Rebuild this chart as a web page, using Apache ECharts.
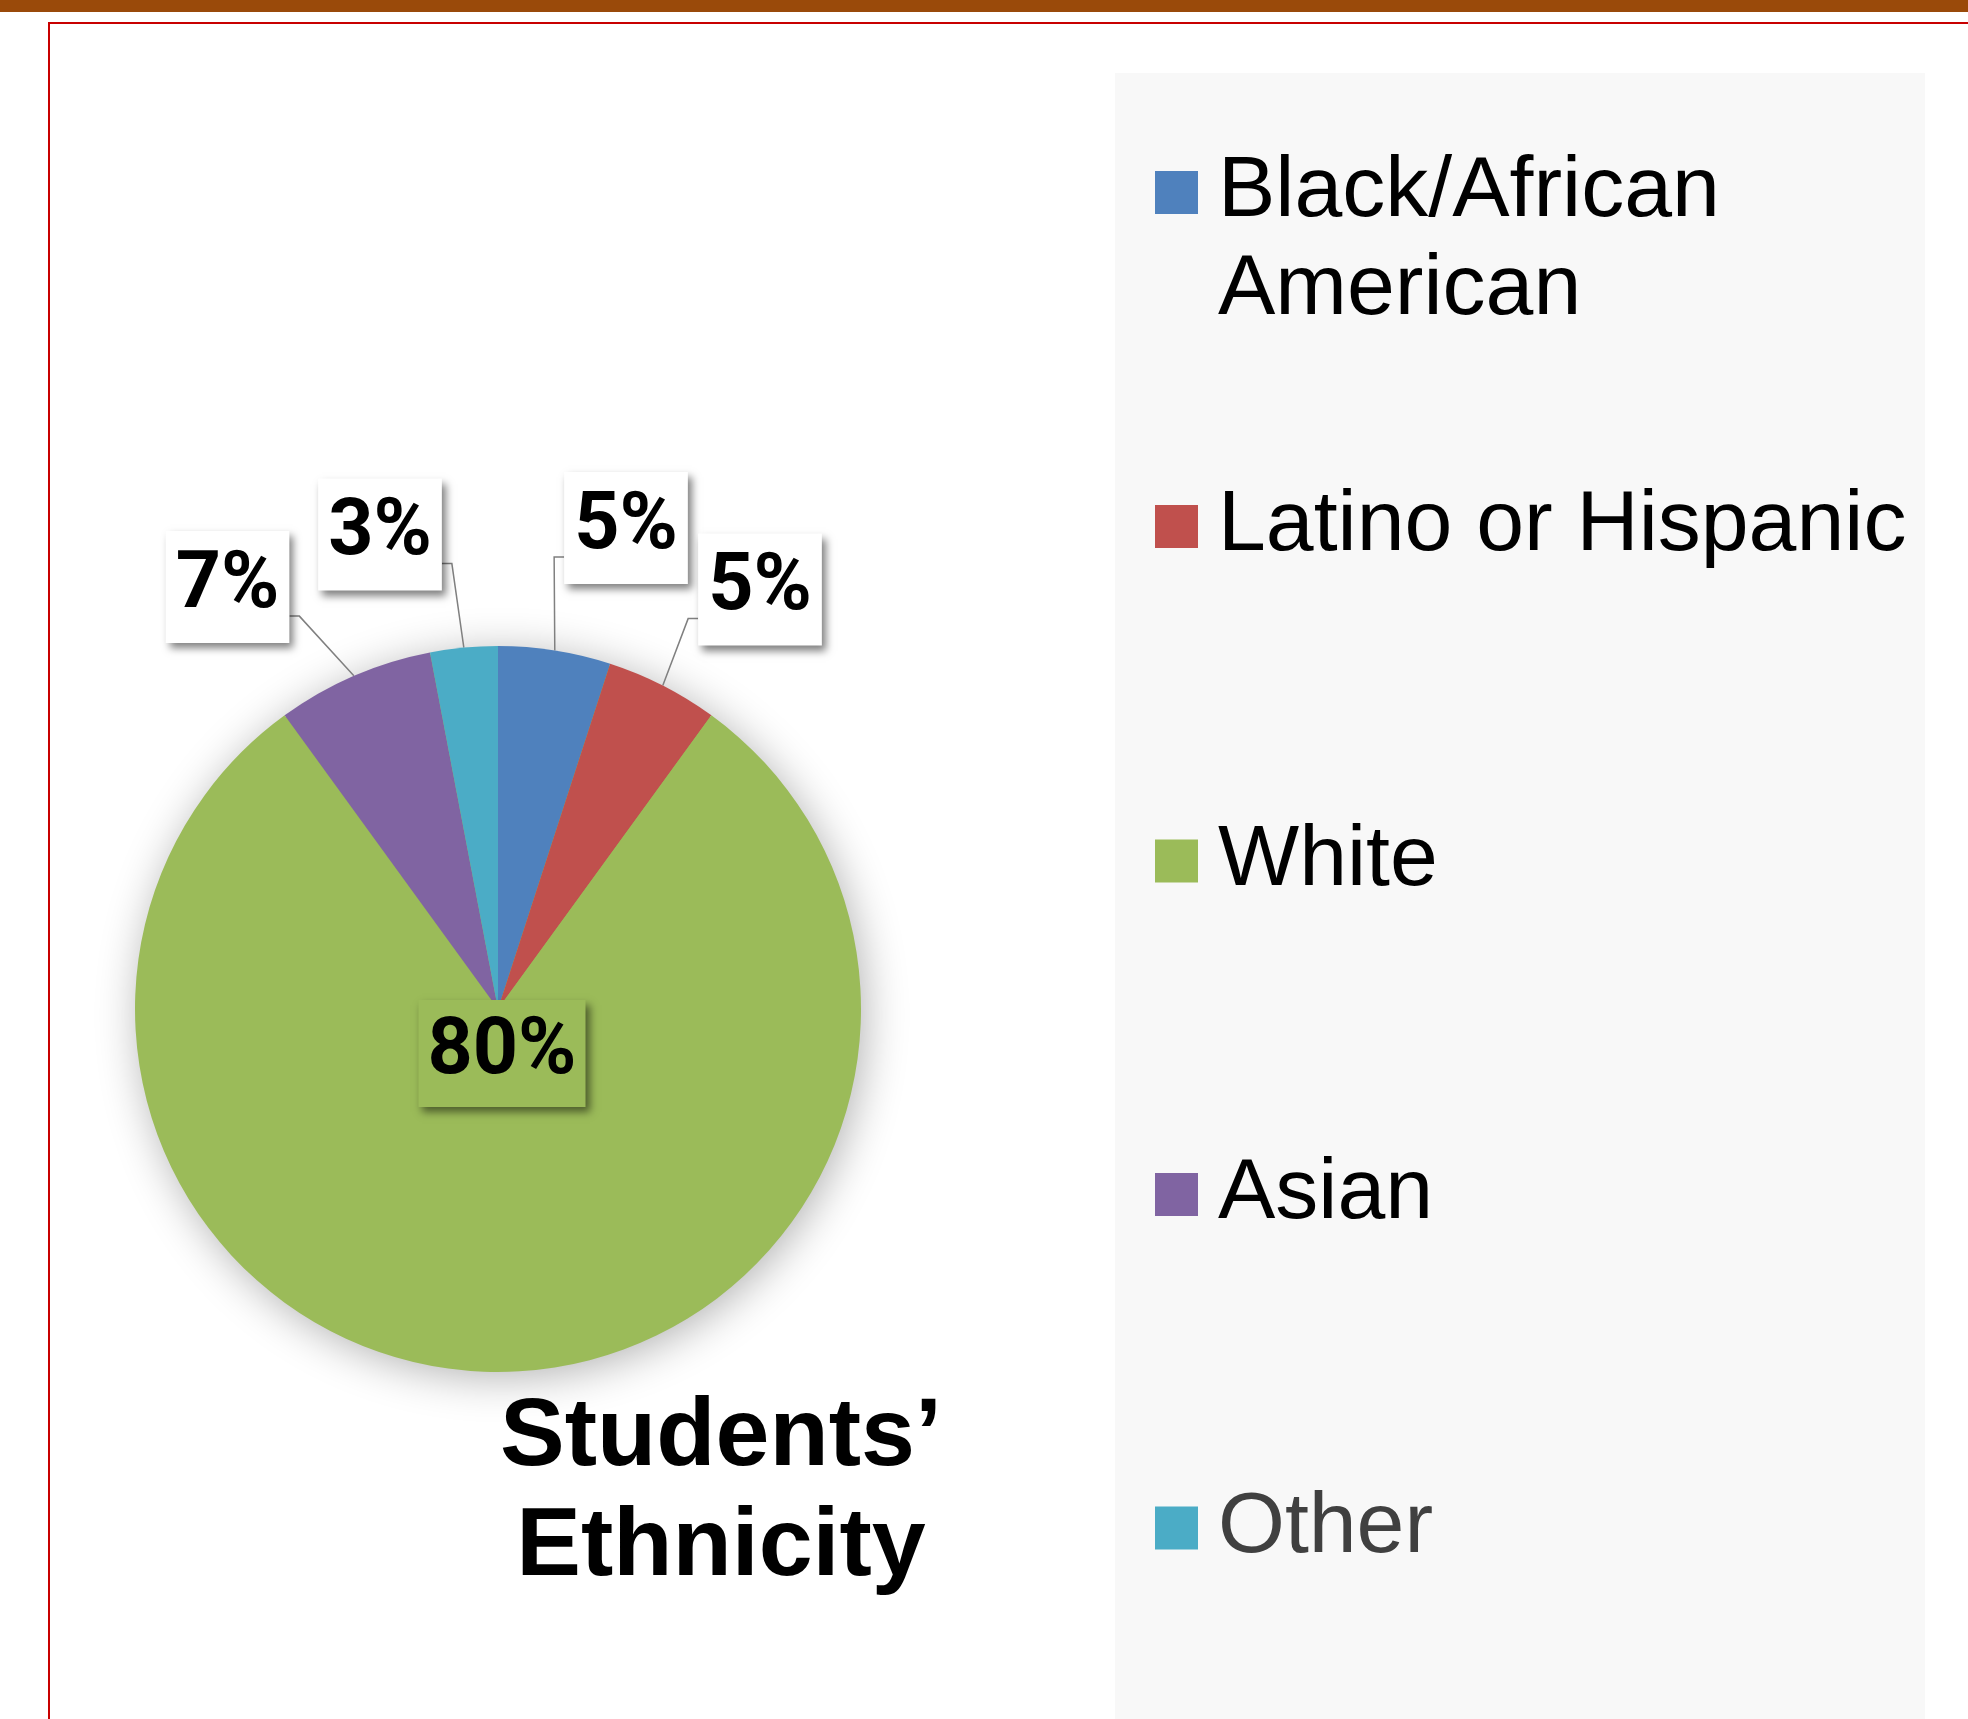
<!DOCTYPE html>
<html>
<head>
<meta charset="utf-8">
<script src="https://cdn.jsdelivr.net/npm/echarts@6/dist/echarts.min.js"></script>
<style>
html,body{margin:0;padding:0;background:#ffffff;}
#chart{width:1968px;height:1719px;}
</style>
</head>
<body>
<div id="chart"></div>
<script>
// ---- data ----
const categories = ['Black/African American', 'Latino or Hispanic', 'White', 'Asian', 'Other'];
const values = [5, 5, 80, 7, 3];
const legendLabels = ['Black/African\nAmerican', 'Latino or Hispanic', 'White', 'Asian', 'Other'];
const titleText = 'Students\u2019\nEthnicity';

// ---- styles / layout ----
const colors = ['#4F81BD', '#C0504D', '#9BBB59', '#8064A2', '#4BACC6'];
const W = 1968, H = 1719;
const PIE_C = [498, 1009];
const PIE_R = 363;
const LABEL_CENTERS = [[626, 528], [760, 589.5], [502, 1053.5], [227.5, 587], [380, 534.5]];
const LEGEND_CENTERS = [192.5, 526.5, 861, 1194.5, 1528];
const LEGEND_LINE_H = 98;

const chart = echarts.init(document.getElementById('chart'), null, {renderer: 'canvas'});

const legends = categories.map(function (name, i) {
  const multi = legendLabels[i].indexOf('\n') >= 0;
  // multi-line item: a leading empty line keeps the icon level with the first text line
  const text = multi ? '\n' + legendLabels[i] : legendLabels[i];
  return {
    data: [name],
    orient: 'vertical',
    left: 1155,
    top: LEGEND_CENTERS[i] - (multi ? 1.5 * LEGEND_LINE_H : LEGEND_LINE_H / 2),
    padding: 0,
    itemWidth: 43,
    itemHeight: 43,
    icon: 'rect',
    selectedMode: false,
    formatter: function () { return text; },
    itemStyle: {borderWidth: 0},
    textStyle: {
      fontFamily: 'Liberation Sans, Arial, sans-serif',
      fontSize: 86,
      lineHeight: LEGEND_LINE_H,
      color: i === 4 ? '#404040' : '#000000',
      padding: [0, 0, 0, 15]
    }
  };
});

const option = {
  animation: false,
  backgroundColor: '#ffffff',
  title: {
    text: titleText,
    left: 721,
    top: 1383,
    textAlign: 'center',
    padding: 0,
    textStyle: {
      fontFamily: 'Liberation Sans, Arial, sans-serif',
      fontWeight: 'bold',
      fontSize: 97,
      lineHeight: 110,
      color: '#000000'
    }
  },
  legend: legends,
  graphic: [
    {type: 'rect', z: 0, silent: true, shape: {x: 0, y: 0, width: W, height: 12}, style: {fill: '#9A4A0A'}},
    {type: 'rect', z: 0, silent: true, shape: {x: 49, y: 23, width: W, height: H}, style: {fill: 'none', stroke: '#C80000', lineWidth: 2}},
    {type: 'rect', z: 0, silent: true, shape: {x: 1115, y: 73, width: 810, height: H}, style: {fill: '#F8F8F8'}},
    {type: 'circle', z: 0, silent: true, shape: {cx: PIE_C[0], cy: PIE_C[1], r: PIE_R - 2},
      style: {fill: '#9BBB59', shadowBlur: 45, shadowColor: 'rgba(0,0,0,0.32)', shadowOffsetX: 4, shadowOffsetY: 6}}
  ],
  series: [{
    type: 'pie',
    center: PIE_C,
    radius: PIE_R,
    startAngle: 90,
    clockwise: true,
    avoidLabelOverlap: false,
    percentPrecision: 0,
    silent: true,
    itemStyle: {borderWidth: 0},
    label: {
      show: true,
      position: 'outside',
      formatter: '{d}%',
      fontFamily: 'Roboto, sans-serif',
      fontWeight: 'bold',
      fontSize: 79,
      lineHeight: 80,
      color: '#000000',
      backgroundColor: '#ffffff',
      padding: [16, 10, 16, 10],
      shadowBlur: 8,
      shadowColor: 'rgba(0,0,0,0.5)',
      shadowOffsetX: 4,
      shadowOffsetY: 5
    },
    labelLine: {show: true, length: 20, length2: 10, smooth: false, lineStyle: {color: '#808080', width: 1.5}},
    data: categories.map(function (name, i) {
      const d = {name: name, value: values[i], itemStyle: {color: colors[i]}};
      if (i === 2) {
        d.label = {position: 'inside', backgroundColor: colors[2], padding: [14, 9, 13, 9]};
        d.labelLine = {show: false};
      }
      return d;
    }),
    labelLayout: function (p) {
      const c = LABEL_CENTERS[p.dataIndex];
      const out = {x: c[0], y: c[1], align: 'center', verticalAlign: 'middle'};
      const pts = p.labelLinePoints;
      if (pts && pts.length && p.dataIndex !== 2) {
        const w = p.labelRect.width, h = p.labelRect.height;
        const leftSide = c[0] < PIE_C[0];
        const edgeX = leftSide ? c[0] + w / 2 : c[0] - w / 2;
        const elbowX = leftSide ? edgeX + 10 : edgeX - 10;
        const attachY = c[1] + h * 0.26;
        out.labelLinePoints = [pts[0], [elbowX, attachY], [edgeX, attachY]];
      }
      return out;
    }
  }]
};
chart.setOption(option);
</script>
</body>
</html>
